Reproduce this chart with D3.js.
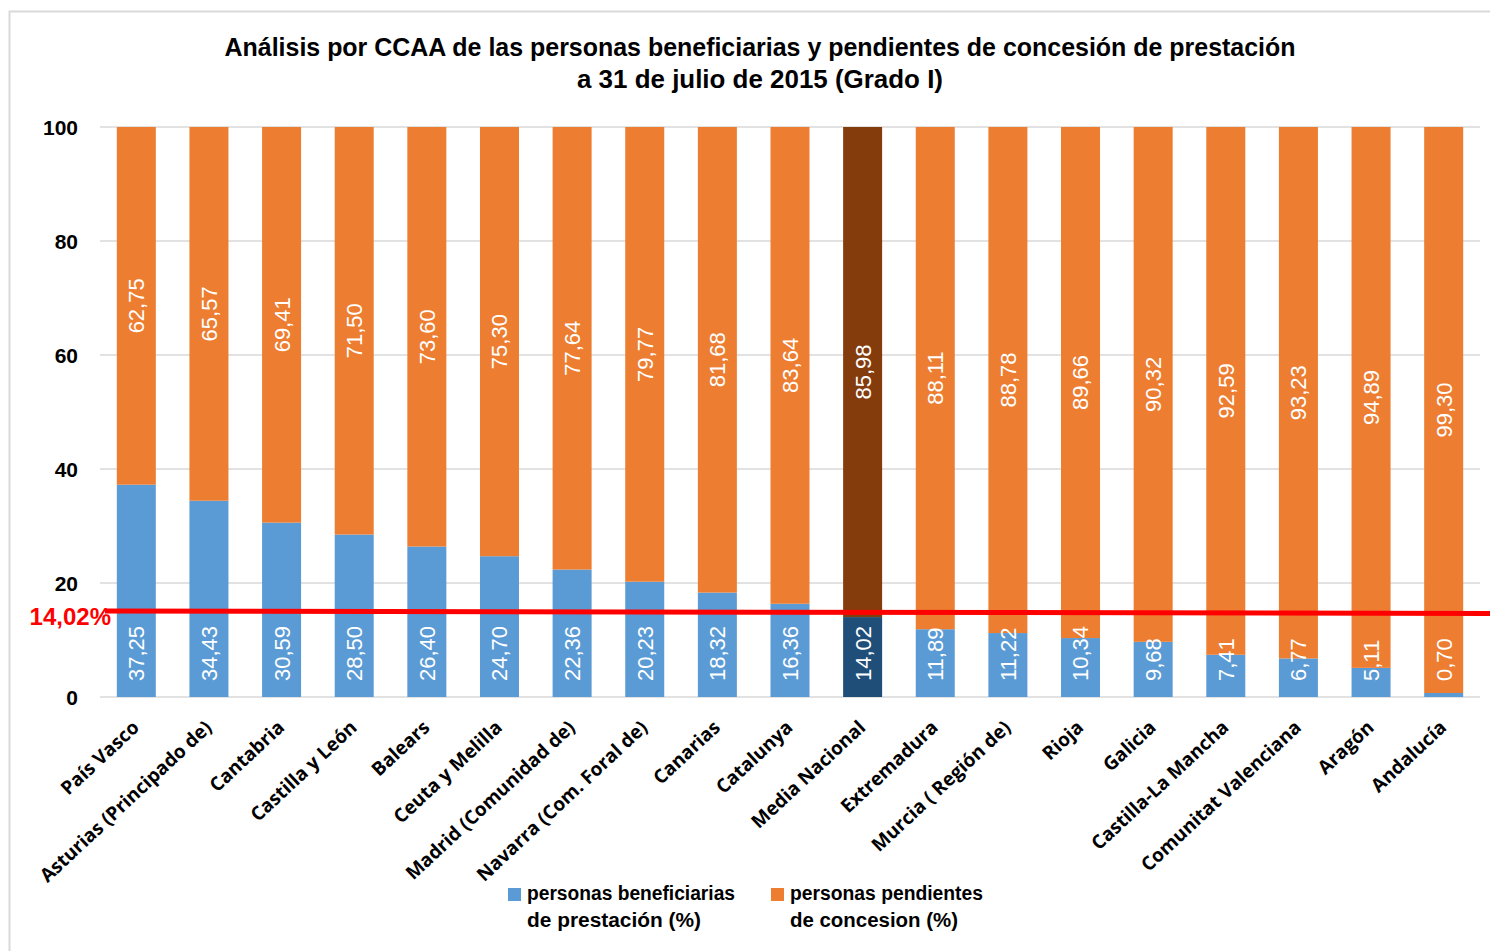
<!DOCTYPE html>
<html lang="es">
<head>
<meta charset="utf-8">
<title>Grado I por CCAA</title>
<script src="https://cdn.jsdelivr.net/npm/d3@7/dist/d3.min.js"></script>
<style>
  body { margin: 0; background: #fff; }
  svg text { font-family: "Liberation Sans", Arial, sans-serif; }
  .ytick text { font-size: 21px; font-weight: bold; fill: #000; }
  .xlab { font-family: "Open Sans", Lato, sans-serif !important; font-size: 19px; font-weight: bold; fill: #000; }
  .val { font-size: 22px; fill: #fff; }
</style>
</head>
<body>
<script>
// categories and series (% of Grado I)
var regions = ["País Vasco", "Asturias (Principado de)", "Cantabria", "Castilla y León", "Balears",
  "Ceuta y Melilla", "Madrid (Comunidad de)", "Navarra (Com. Foral de)", "Canarias", "Catalunya",
  "Media Nacional", "Extremadura", "Murcia ( Región de)", "Rioja", "Galicia", "Castilla-La Mancha",
  "Comunitat Valenciana", "Aragón", "Andalucía"];
var beneficiarias = [37.25, 34.43, 30.59, 28.50, 26.40, 24.70, 22.36, 20.23, 18.32, 16.36,
  14.02, 11.89, 11.22, 10.34, 9.68, 7.41, 6.77, 5.11, 0.70];
var pendientes = [62.75, 65.57, 69.41, 71.50, 73.60, 75.30, 77.64, 79.77, 81.68, 83.64,
  85.98, 88.11, 88.78, 89.66, 90.32, 92.59, 93.23, 94.89, 99.30];
var yTicks = [0, 20, 40, 60, 80, 100];
var mediaLabel = "14,02%";
var refLineFrom = 15.1, refLineTo = 14.65;
var highlight = "Media Nacional";

var W = 1490, H = 951;
var plotLeft = 100, plotRight = 1480, plotTop = 127, plotBottom = 697;

var svg = d3.select("body").append("svg")
  .attr("width", W).attr("height", H);

// chart frame
svg.append("rect")
  .attr("x", 9.5).attr("y", 11.5)
  .attr("width", W).attr("height", H)
  .attr("fill", "none").attr("stroke", "#d9d9d9").attr("stroke-width", 2);

var x = d3.scaleBand().domain(regions).range([plotLeft, plotRight]).paddingInner(0.463).paddingOuter(0.2315);
var y = d3.scaleLinear().domain([0, 100]).range([plotBottom, plotTop]);

// gridlines
svg.append("g").selectAll("line").data(yTicks).enter().append("line")
  .attr("x1", plotLeft).attr("x2", plotRight)
  .attr("y1", function(d) { return y(d); }).attr("y2", function(d) { return y(d); })
  .attr("stroke", "#d9d9d9").attr("stroke-width", 1.5);

// y axis labels
var yAxis = svg.append("g").attr("class", "ytick")
  .attr("transform", "translate(" + (plotLeft - 22) + ",0)")
  .call(d3.axisLeft(y).tickValues(yTicks).tickSize(0).tickPadding(0));
yAxis.select(".domain").remove();
yAxis.selectAll("text").attr("dy", "0.36em");

var rows = regions.map(function(r, i) {
  return { region: r, ben: beneficiarias[i], pen: pendientes[i] };
});
var fmt = function(v) { return d3.format(".2f")(v).replace(".", ","); };

var g = svg.append("g").selectAll("g").data(rows).enter().append("g");

g.append("rect")
  .attr("x", function(d) { return x(d.region); })
  .attr("width", x.bandwidth())
  .attr("y", function(d) { return y(d.ben); })
  .attr("height", function(d) { return y(0) - y(d.ben); })
  .attr("fill", function(d) { return d.region == highlight ? "#1f4e79" : "#5b9bd5"; });

g.append("rect")
  .attr("x", function(d) { return x(d.region); })
  .attr("width", x.bandwidth())
  .attr("y", function(d) { return y(d.ben + d.pen); })
  .attr("height", function(d) { return y(d.ben) - y(d.ben + d.pen); })
  .attr("fill", function(d) { return d.region == highlight ? "#843c0c" : "#ed7d31"; });

// value labels, rotated
g.append("text").attr("class", "val")
  .attr("transform", function(d) {
    return "translate(" + (x(d.region) + x.bandwidth() / 2) + "," + (y(0) - 16) + ") rotate(-90)";
  })
  .attr("dy", "0.36em")
  .attr("text-anchor", "start")
  .text(function(d) { return fmt(d.ben); });

g.append("text").attr("class", "val")
  .attr("transform", function(d) {
    var mid = (y(d.ben) + y(d.ben + d.pen)) / 2;
    return "translate(" + (x(d.region) + x.bandwidth() / 2) + "," + mid + ") rotate(-90)";
  })
  .attr("dy", "0.36em")
  .attr("text-anchor", "middle")
  .text(function(d) { return fmt(d.pen); });

// category labels
svg.append("g").selectAll("text").data(regions).enter().append("text")
  .attr("class", "xlab")
  .attr("text-anchor", "end")
  .attr("transform", function(d) {
    return "translate(" + (x(d) + x.bandwidth() / 2 + 4) + "," + (y(0) + 32) + ") rotate(-43)";
  })
  .text(function(d) { return d; });

// national average line
svg.append("line")
  .attr("x1", plotLeft + 5).attr("x2", W)
  .attr("y1", y(refLineFrom)).attr("y2", y(refLineTo))
  .attr("stroke", "#ff0000").attr("stroke-width", 5);
svg.append("text")
  .attr("x", 111).attr("y", y(refLineFrom) + 14)
  .attr("text-anchor", "end")
  .attr("font-size", 24).attr("font-weight", "bold").attr("fill", "#ff0000")
  .text(mediaLabel);

// title
var title = svg.append("text")
  .attr("text-anchor", "middle").attr("font-size", 26).attr("font-weight", "bold").attr("fill", "#000");
title.append("tspan").attr("x", 760).attr("y", 56)
  .attr("textLength", 1071).attr("lengthAdjust", "spacingAndGlyphs")
  .text("Análisis por CCAA de las personas beneficiarias y pendientes de concesión de prestación");
title.append("tspan").attr("x", 760).attr("y", 88)
  .attr("textLength", 366).attr("lengthAdjust", "spacingAndGlyphs")
  .text("a 31 de julio de 2015 (Grado I)");

// legend
var legend = [
  { color: "#5b9bd5", x: 508, lines: ["personas beneficiarias", "de prestación (%)"], w: [208, 174] },
  { color: "#ed7d31", x: 771, lines: ["personas pendientes", "de concesion (%)"], w: [193, 168] }
];
var lg = svg.append("g").selectAll("g").data(legend).enter().append("g");
lg.append("rect")
  .attr("x", function(d) { return d.x; }).attr("y", 888)
  .attr("width", 13).attr("height", 13)
  .attr("fill", function(d) { return d.color; });
lg.each(function(d) {
  var t = d3.select(this);
  d.lines.forEach(function(line, i) {
    t.append("text")
      .attr("x", d.x + 19).attr("y", 900 + i * 27)
      .attr("font-size", 20).attr("font-weight", "bold").attr("fill", "#000")
      .attr("textLength", d.w[i]).attr("lengthAdjust", "spacingAndGlyphs")
      .text(line);
  });
});
</script>
</body>
</html>
